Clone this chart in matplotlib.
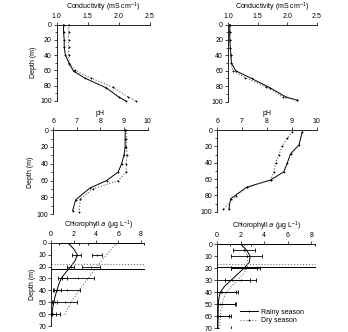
import matplotlib
matplotlib.use("Agg")
import matplotlib.pyplot as plt
from matplotlib.ticker import MultipleLocator

plt.rcParams["font.family"] = ["Liberation Sans", "DejaVu Sans"]
plt.rcParams["font.size"] = 5
plt.rcParams["mathtext.default"] = "regular"

# conductivity (mS cm-1), station A / B
cond_a_rainy_z = [0, 10, 20, 30, 40, 51, 61, 70, 83, 95, 100]
cond_a_rainy = [1.11, 1.11, 1.12, 1.12, 1.14, 1.20, 1.27, 1.45, 1.80, 2.00, 2.11]
cond_a_dry_z = [0, 10, 20, 30, 40, 50, 60, 70, 82, 95, 100]
cond_a_dry = [1.19, 1.19, 1.19, 1.19, 1.19, 1.20, 1.29, 1.55, 1.90, 2.15, 2.27]

cond_b_rainy_z = [0, 10, 20, 30, 40, 50, 60, 70, 82, 94, 98]
cond_b_rainy = [1.03, 1.03, 1.03, 1.04, 1.05, 1.06, 1.13, 1.40, 1.71, 1.98, 2.16]
cond_b_dry_z = [0, 10, 20, 30, 40, 50, 60, 69, 81, 94, 98]
cond_b_dry = [1.03, 1.04, 1.03, 1.04, 1.05, 1.06, 1.08, 1.29, 1.65, 1.93, 2.16]

# pH
ph_a_rainy_z = [0, 10, 20, 30, 40, 50, 60, 69, 83, 96]
ph_a_rainy = [9.05, 9.05, 9.05, 9.0, 8.9, 8.75, 8.26, 7.55, 6.95, 6.82]
ph_a_dry_z = [0, 10, 20, 30, 40, 50, 60, 70, 82, 97]
ph_a_dry = [9.1, 9.1, 9.1, 9.12, 9.1, 9.08, 8.76, 7.67, 7.15, 7.1]

ph_b_rainy_z = [2, 18, 29, 40, 51, 61, 70, 84, 97]
ph_b_rainy = [9.42, 9.29, 8.95, 8.82, 8.68, 8.15, 7.18, 6.54, 6.47]
ph_b_dry_z = [2, 10, 19, 30, 40, 51, 61, 70, 81, 97]
ph_b_dry = [9.02, 8.82, 8.62, 8.48, 8.35, 8.28, 8.15, 7.18, 6.74, 6.24]

# chlorophyll a (ug L-1): measured means with spread
chl_a_rainy_z = [0, 10, 20, 30, 40, 50, 60]
chl_a_rainy = [1.6, 2.3, 1.75, 1.0, 0.55, 0.35, 0.2]
chl_a_rainy_err = [0.9, 0.4, 0.3, 0.4, 0.3, 0.2, 0.2]
chl_a_dry_z = [0, 10, 20, 30, 40, 50, 60]
chl_a_dry = [5.8, 4.1, 3.6, 2.4, 1.4, 1.2, 0.45]
chl_a_dry_err = [2.5, 0.45, 0.8, 1.4, 1.2, 1.1, 0.35]

chl_b_rainy_z = [0, 5, 10, 20, 30, 40, 50, 60]
chl_b_rainy = [2.0, 2.3, 2.5, 2.3, 1.3, 0.3, 0.2, 0.1]
chl_b_rainy_err = [0.9, 0.95, 1.3, 1.1, 1.5, 1.3, 1.4, 0.9]
chl_b_dry_z = [0, 20, 30, 40, 50, 60, 70]
chl_b_dry = [2.3, 2.4, 2.0, 0.38, 0.45, 0.2, 0.05]
chl_b_dry_err = [6.0, 1.2, 1.3, 1.4, 1.1, 1.0, 1.1]

# fitted profiles
fit_a_rainy_z = [0, 5, 10, 15, 20, 25, 30, 35, 41, 46, 52, 56, 61]
fit_a_rainy = [1.47, 2.0, 2.33, 2.15, 1.76, 1.3, 0.9, 0.68, 0.48, 0.33, 0.2, 0.12, 0.06]
fit_a_dry_z = [0, 10, 20, 30, 40, 50, 56, 62]
fit_a_dry = [5.9, 4.95, 4.1, 3.3, 2.5, 1.8, 1.45, 1.15]

fit_b_rainy_z = [0, 5, 10, 15, 20, 25, 30, 35, 40, 45, 50, 60, 70]
fit_b_rainy = [2.0, 2.5, 2.8, 2.75, 2.3, 1.75, 1.2, 0.65, 0.27, 0.15, 0.1, 0.08, 0.06]
fit_b_dry_z = [0, 5, 10, 15, 20, 25, 30, 35, 40, 45, 51, 56, 62, 69]
fit_b_dry = [2.0, 2.35, 2.56, 2.6, 2.56, 2.2, 1.75, 1.25, 0.8, 0.55, 0.4, 0.32, 0.27, 0.2]

# mixed layer depth (m)
mld_a = {"rainy": 22, "dry": 18}
mld_b = {"rainy": 19, "dry": 17}

MS = 2
fig = plt.figure(figsize=(3.48, 3.32), dpi=100)


def style_axes(ax, xlim, xticks, ylim, ymajor, yminor, xlabel, ylabel=None):
    ax.set_xlim(*xlim)
    ax.set_xticks(xticks)
    ax.set_ylim(*ylim)
    ax.yaxis.set_major_locator(MultipleLocator(ymajor))
    if yminor:
        ax.yaxis.set_minor_locator(MultipleLocator(yminor))
    ax.xaxis.tick_top()
    ax.xaxis.set_label_position("top")
    ax.set_xlabel(xlabel, labelpad=2.5)
    if ylabel:
        ax.set_ylabel(ylabel, labelpad=2)
    for s in ("right", "bottom"):
        ax.spines[s].set_visible(False)
    for s in ("left", "top"):
        ax.spines[s].set_linewidth(0.6)
    ax.tick_params(which="major", length=2, width=0.5, pad=1.5, labelsize=5)
    ax.tick_params(which="minor", length=1.2, width=0.5)


def profile(ax, x1, z1, x2, z2):
    ax.plot(x1, z1, "-", color="black", lw=0.7, marker="+", ms=MS, mew=0.6,
            clip_on=False)
    ax.plot(x2, z2, ":", color="0.35", lw=0.8, marker="+", ms=MS, mew=0.6,
            mec="black", clip_on=False)


cond_ticks = [1.0, 1.5, 2.0, 2.5]
cond_label = "Conductivity (mS cm$^{-1}$)"
ax1 = fig.add_axes([0.163, 0.696, 0.268, 0.230])
profile(ax1, cond_a_rainy, cond_a_rainy_z, cond_a_dry, cond_a_dry_z)
style_axes(ax1, (1.0, 2.5), cond_ticks, (100, 0), 20, 10, cond_label, "Depth (m)")

ax2 = fig.add_axes([0.655, 0.694, 0.255, 0.232])
profile(ax2, cond_b_rainy, cond_b_rainy_z, cond_b_dry, cond_b_dry_z)
style_axes(ax2, (1.0, 2.5), cond_ticks, (100, 0), 20, 10, cond_label)

ph_ticks = [6, 7, 8, 9, 10]
ax3 = fig.add_axes([0.153, 0.355, 0.271, 0.253])
profile(ax3, ph_a_rainy, ph_a_rainy_z, ph_a_dry, ph_a_dry_z)
style_axes(ax3, (6, 10), ph_ticks, (100, 0), 20, 10, "pH", "Depth (m)")

ax4 = fig.add_axes([0.624, 0.362, 0.286, 0.246])
profile(ax4, ph_b_rainy, ph_b_rainy_z, ph_b_dry, ph_b_dry_z)
style_axes(ax4, (6, 10), ph_ticks, (100, 0), 20, 10, "pH")

chl_label = "Chlorophyll $\\it{a}$ ($\\mu$g L$^{-1}$)"


def chl_panel(ax, fr, frz, fd, fdz, r, rz, re, d, dz, de, mld):
    ax.plot(fr, frz, "-", color="black", lw=0.7)
    ax.plot(fd, fdz, ":", color="0.45", lw=0.8)
    ax.errorbar(r, rz, xerr=re, fmt="+", color="black", ms=MS, mew=0.6,
                elinewidth=0.6, capsize=1.2, capthick=0.6)
    ax.errorbar(d, dz, xerr=de, fmt="+", color="black", ms=MS, mew=0.6,
                elinewidth=0.6, capsize=1.2, capthick=0.6)
    ax.plot([0, 8.3], [mld["rainy"]] * 2, "-", color="black", lw=0.7)
    ax.plot([0, 8.3], [mld["dry"]] * 2, ":", color="0.45", lw=0.8)


ax5 = fig.add_axes([0.147, 0.018, 0.270, 0.251])
chl_panel(ax5, fit_a_rainy, fit_a_rainy_z, fit_a_dry, fit_a_dry_z,
          chl_a_rainy, chl_a_rainy_z, chl_a_rainy_err,
          chl_a_dry, chl_a_dry_z, chl_a_dry_err, mld_a)
style_axes(ax5, (0, 8.4), [0, 2, 4, 6, 8], (70, 0), 10, None, chl_label, "Depth (m)")
ax5.spines["top"].set_bounds(0, 8)

ax6 = fig.add_axes([0.624, 0.012, 0.284, 0.253])
chl_panel(ax6, fit_b_rainy, fit_b_rainy_z, fit_b_dry, fit_b_dry_z,
          chl_b_rainy, chl_b_rainy_z, chl_b_rainy_err,
          chl_b_dry, chl_b_dry_z, chl_b_dry_err, mld_b)
style_axes(ax6, (0, 8.4), [0, 2, 4, 6, 8], (70, 0), 10, None, chl_label)
ax6.spines["top"].set_bounds(0, 8)

h_rainy, = ax6.plot([], [], "-", color="black", lw=0.7, marker="+", ms=MS, mew=0.6)
h_dry, = ax6.plot([], [], ":", color="0.45", lw=0.8, marker="+", ms=MS, mew=0.6,
                  mec="black")
ax6.legend([h_rainy, h_dry], ["Rainy season", "Dry season"], loc="upper left",
           bbox_to_anchor=(0.2, 0.27), frameon=False, fontsize=5,
           handlelength=2.6, handletextpad=0.4, labelspacing=0.2, borderpad=0)

fig.savefig("out.png", dpi=100)
